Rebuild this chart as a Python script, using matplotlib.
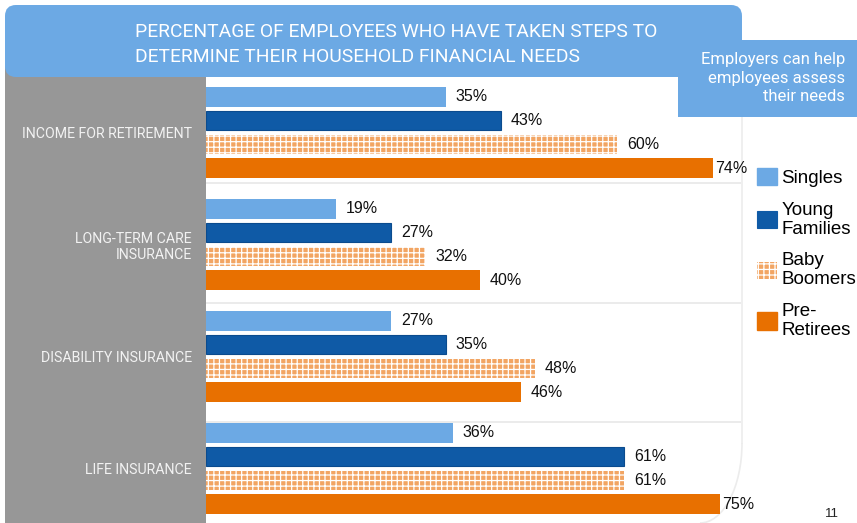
import matplotlib
matplotlib.use("Agg")
import matplotlib.pyplot as plt
from matplotlib import font_manager
from matplotlib.patches import FancyBboxPatch, Rectangle, Arc, Patch

# ---- data ----
categories = ["INCOME FOR RETIREMENT", "LONG-TERM CARE\nINSURANCE",
              "DISABILITY INSURANCE", "LIFE INSURANCE"]
series_names = ["Singles", "Young\nFamilies", "Baby\nBoomers", "Pre-\nRetirees"]
singles = [35, 19, 27, 36]
young_families = [43, 27, 35, 61]
baby_boomers = [60, 32, 48, 61]
pre_retirees = [74, 40, 46, 75]
series_values = [singles, young_families, baby_boomers, pre_retirees]

title_lines = ["PERCENTAGE OF EMPLOYEES WHO HAVE TAKEN STEPS TO",
               "DETERMINE THEIR HOUSEHOLD FINANCIAL NEEDS"]
callout_text = "Employers can help\nemployees assess\ntheir needs"
page_number = "11"

# ---- styling ----
available = {f.name for f in font_manager.fontManager.ttflist}
narrow = "Liberation Sans Narrow" if "Liberation Sans Narrow" in available else "Roboto"
regular = "Liberation Sans" if "Liberation Sans" in available else "DejaVu Sans"

c_light = "#6CA9E4"
c_dark = "#0F5AA6"
c_orange = "#E87000"
c_peach = "#F2A563"
c_panel = "#979797"

plt.rcParams["hatch.linewidth"] = 0.9

W, H = 857, 523
fig = plt.figure(figsize=(W / 100, H / 100), dpi=100)
fig.patch.set_facecolor("white")

# background layer in pixel coordinates
back = fig.add_axes([0, 0, 1, 1], zorder=0)
back.set_xlim(0, W)
back.set_ylim(H, 0)
back.axis("off")
back.add_patch(Rectangle((5, 60), 201, H - 60, facecolor=c_panel, edgecolor="none"))
for yy in (183, 303, 422):
    back.plot([206, 741], [yy, yy], color="#e8e8e8", lw=1.2, solid_capstyle="butt")
back.plot([742, 742], [117, 443], color="#ececec", lw=1.2)
back.add_patch(Arc((700, 443), 84, 160, theta1=0, theta2=90, color="#ececec", lw=1.2))

# bar chart
px_left, px_right, px_top, px_bottom = 206, 742, 77, H
ax = fig.add_axes([px_left / W, 1 - px_bottom / H,
                   (px_right - px_left) / W, (px_bottom - px_top) / H], zorder=1)
ax.patch.set_alpha(0)
group_px = 112.0
first_center_px = 132.5
ax.set_ylim((px_bottom - first_center_px) / group_px, (px_top - first_center_px) / group_px)
ax.set_xlim(0, (px_right - px_left) / 6.85)

step = 23.7 / group_px
bar_h = 19.5 / group_px
offsets = [-1.5 * step, -0.5 * step, 0.5 * step, 1.5 * step]
styles = [
    dict(color=c_light, edgecolor="none"),
    dict(color=c_dark, edgecolor="#0B4B8E", linewidth=0.8),
    dict(facecolor=c_peach, edgecolor="white", hatch="+++", linewidth=0),
    dict(color=c_orange, edgecolor="none"),
]
handles = []
for vals, off, st, name in zip(series_values, offsets, styles, series_names):
    ys = [i + off for i in range(len(categories))]
    bars = ax.barh(ys, vals, height=bar_h, **st)
    handles.append(Patch(label=name, **st))
    for b, v in zip(bars, vals):
        # long bars keep their label tight so it stays clear of the legend
        gap = 2 if v >= 70 else 10
        ax.annotate(f"{v}%", xy=(b.get_width(), b.get_y() + b.get_height() / 2),
                    xytext=(gap * 0.72, 0), textcoords="offset points",
                    ha="left", va="center", fontsize=11.5, family=regular,
                    color="#111111", clip_on=False)

ax.set_yticks(range(len(categories)))
ax.set_yticklabels(categories, family=narrow, fontsize=10.2, color="#f2f2f2",
                   ha="right", linespacing=1.15)
ax.tick_params(axis="y", length=0, pad=10)
ax.set_xticks([])
for s in ax.spines.values():
    s.set_visible(False)

# legend
leg = fig.legend(handles=handles, loc="upper left",
                 bbox_to_anchor=(757 / W, 1 - 168 / H), frameon=False,
                 prop={"family": regular, "size": 13.5},
                 handlelength=1.05, handleheight=1.05, handletextpad=0.25,
                 labelspacing=0.78, borderaxespad=0, borderpad=0)
for t in leg.get_texts():
    t.set_linespacing(1.15)

# header and callout on top
front = fig.add_axes([0, 0, 1, 1], zorder=3)
front.set_xlim(0, W)
front.set_ylim(H, 0)
front.axis("off")
front.patch.set_alpha(0)
front.add_patch(FancyBboxPatch((5, 5), 737, 72,
                               boxstyle="round,pad=0,rounding_size=11",
                               facecolor=c_light, edgecolor="none"))
front.add_patch(Rectangle((678, 40), W - 678, 77, facecolor=c_light, edgecolor="none"))
front.text(135, 32, title_lines[0], family=narrow, fontsize=13.9, color="white",
           ha="left", va="center")
front.text(135, 57, title_lines[1], family=narrow, fontsize=13.9, color="white",
           ha="left", va="center")
front.text(845, 78, callout_text, family=narrow, fontsize=12, color="white",
           ha="right", va="center", multialignment="right", linespacing=1.3)
front.text(832, 514, page_number, family=regular, fontsize=9.5, color="#222222",
           ha="center", va="center")

fig.savefig("out.png", dpi=100)
